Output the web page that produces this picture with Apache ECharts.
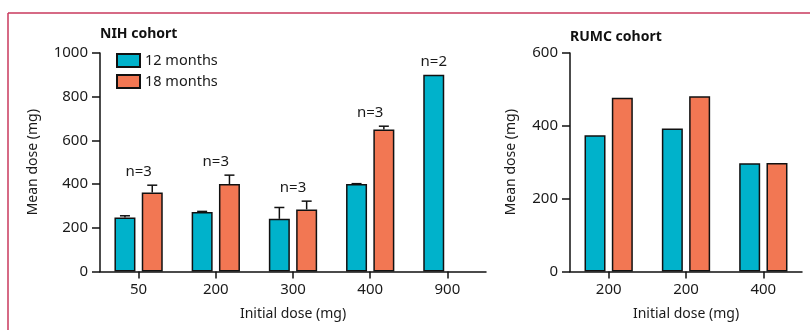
<!DOCTYPE html>
<html>
<head>
<meta charset="utf-8">
<script src="https://cdn.jsdelivr.net/npm/echarts@6/dist/echarts.min.js"></script>
<style>
html,body{margin:0;padding:0;background:#fff;}
#c{width:810px;height:330px;}
</style>
</head>
<body>
<div id="c"></div>
<script>
// ---- data ----
const nihCategories = ['50', '200', '300', '400', '900'];
const nih12 = [247, 272, 241, 400, 900];
const nih18 = [361, 400, 284, 650, null];
const nih12ErrTop = [255, 275, 293, 402, null];
const nih18ErrTop = [395, 441, 322, 665, null];
const nihN = ['n=3', 'n=3', 'n=3', 'n=3', 'n=2'];

const rumcCategories = ['200', '200', '400'];
const rumc12 = [374, 393, 297];
const rumc18 = [477, 481, 298];

const nihTicks = [0, 200, 400, 600, 800, 1000];
const rumcTicks = [0, 200, 400, 600];

// ---- styles ----
const FONT = 'Noto Sans';
const TEAL = '#00B2CB';
const ORANGE = '#F27753';
const BAR_W = 21;
const BAR_GAP = 0.3;
const OFFSET = (BAR_W + BAR_W * BAR_GAP) / 2;

const chart = echarts.init(document.getElementById('c'), null, {renderer: 'canvas'});

function yAxis(gridIndex, ticks, nameGap) {
  return {
    type: 'value', gridIndex, min: ticks[0], max: ticks[ticks.length - 1], interval: ticks[1] - ticks[0],
    name: 'Mean dose (mg)', nameLocation: 'middle', nameGap,
    nameTextStyle: {fontFamily: FONT, fontSize: 14, color: '#1a1a1a'},
    axisLine: {show: true, lineStyle: {color: '#111', width: 1.5}},
    axisTick: {show: true, length: 8, lineStyle: {color: '#111', width: 1.5}},
    axisLabel: {margin: 12, fontFamily: FONT, fontSize: 15, color: '#1a1a1a', formatter: v => String(v)},
    splitLine: {show: false}
  };
}
function xAxis(gridIndex, data) {
  return {
    type: 'category', gridIndex, data,
    name: 'Initial dose (mg)', nameLocation: 'middle', nameGap: 36,
    nameTextStyle: {fontFamily: FONT, fontSize: 14, color: '#1a1a1a'},
    axisLine: {show: true, lineStyle: {color: '#111', width: 1.5}},
    axisTick: {show: true, alignWithLabel: true, length: 7, lineStyle: {color: '#111', width: 1.5}},
    axisLabel: {margin: 11, fontFamily: FONT, fontSize: 15, color: '#1a1a1a', interval: 0},
    splitLine: {show: false}
  };
}
function barSeries(name, data, color, idx) {
  return {
    type: 'bar', name, data, xAxisIndex: idx, yAxisIndex: idx,
    barWidth: BAR_W, barGap: (BAR_GAP * 100) + '%',
    itemStyle: {color, borderColor: '#111', borderWidth: 1.5},
    emphasis: {disabled: true}, z: 2
  };
}

// error bars (upper only) as custom series
function errSeries(tops, values, side) {
  return {
    type: 'custom', xAxisIndex: 0, yAxisIndex: 0, z: 3, silent: true,
    data: tops.map((t, i) => [i, values[i], t]),
    renderItem: function (params, api) {
      const v = api.value(1), t = api.value(2);
      if (t == null || isNaN(t) || v == null || isNaN(v)) return null;
      const c0 = api.coord([api.value(0), v]);
      const c1 = api.coord([api.value(0), t]);
      const x = c0[0] + side * OFFSET;
      return {
        type: 'group', children: [
          {type: 'line', shape: {x1: x, y1: c0[1], x2: x, y2: c1[1]}, style: {stroke: '#111', lineWidth: 1.5}},
          {type: 'line', shape: {x1: x - 5, y1: c1[1], x2: x + 5, y2: c1[1]}, style: {stroke: '#111', lineWidth: 1.5}}
        ]
      };
    }
  };
}

// n labels above each group
const nLabelData = nihN.map((lab, i) => {
  const tops = [nih12[i], nih18[i], nih12ErrTop[i], nih18ErrTop[i]].filter(v => v != null);
  const only12 = nih18[i] == null;
  return [i, Math.max.apply(null, tops), lab, only12 ? -1 : 0];
});
const nSeries = {
  type: 'custom', xAxisIndex: 0, yAxisIndex: 0, z: 4, silent: true,
  data: nLabelData,
  encode: {x: 0, y: 1},
  renderItem: function (params, api) {
    const c = api.coord([api.value(0), api.value(1)]);
    const d = nLabelData[params.dataIndex];
    return {
      type: 'text',
      style: {
        x: c[0] + d[3] * OFFSET, y: c[1] - 6, text: d[2],
        align: 'center', verticalAlign: 'bottom',
        font: '15px "' + FONT + '"', fill: '#1a1a1a'
      }
    };
  }
};

const option = {
  animation: false,
  backgroundColor: '#fff',
  title: [
    {text: 'NIH cohort', left: 100, top: 27, padding: 0, textStyle: {fontFamily: FONT, fontSize: 14, fontWeight: 'bold', color: '#111'}},
    {text: 'RUMC cohort', left: 570, top: 30, padding: 0, textStyle: {fontFamily: FONT, fontSize: 14, fontWeight: 'bold', color: '#111'}}
  ],
  legend: {
    data: ['12 months', '18 months'], orient: 'vertical', left: 116, top: 53, padding: 0,
    itemWidth: 23, itemHeight: 13, itemGap: 6, icon: 'rect',
    textStyle: {fontFamily: FONT, fontSize: 14.5, color: '#1a1a1a'},
    selectedMode: false
  },
  grid: [
    {left: 100, top: 53, width: 386, height: 218.5},
    {left: 570, top: 53, width: 232, height: 218.5}
  ],
  xAxis: [xAxis(0, nihCategories), xAxis(1, rumcCategories)],
  yAxis: [yAxis(0, nihTicks, 60), yAxis(1, rumcTicks, 52)],
  series: [
    barSeries('12 months', nih12, TEAL, 0),
    barSeries('18 months', nih18, ORANGE, 0),
    barSeries('12 months', rumc12, TEAL, 1),
    barSeries('18 months', rumc18, ORANGE, 1),
    errSeries(nih12ErrTop, nih12, -1),
    errSeries(nih18ErrTop, nih18, 1),
    nSeries
  ],
  graphic: [
    {type: 'line', shape: {x1: 8, y1: 13, x2: 810, y2: 13}, style: {stroke: '#C9395C', lineWidth: 1.5}, silent: true},
    {type: 'line', shape: {x1: 8, y1: 13, x2: 8, y2: 330}, style: {stroke: '#C9395C', lineWidth: 1.5}, silent: true}
  ]
};
chart.setOption(option);
</script>
</body>
</html>
